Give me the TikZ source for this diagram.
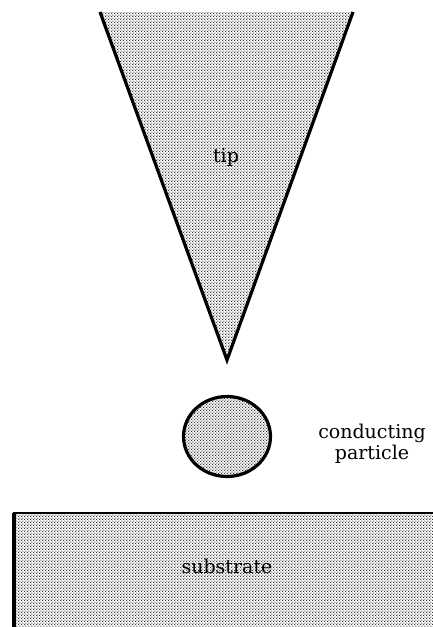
\documentclass[tikz,border=0pt]{standalone}
\usepackage{fontspec}
\setmainfont{DejaVu Serif}
\usetikzlibrary{patterns.meta,shapes.geometric,positioning}

\tikzdeclarepattern{
  name=halftone,
  type=uncolored,
  bounding box={(0,0) and (3.2pt,3.2pt)},
  tile size={(3.2pt,3.2pt)},
  code={
    \fill (0.8pt,0.8pt) circle (0.8pt);
    \fill (2.4pt,2.4pt) circle (0.8pt);
  }
}

\begin{document}
\begin{tikzpicture}[x=1pt,y=-1pt,font=\fontsize{19}{21}\selectfont,
  dotfill/.style={pattern=halftone,pattern color=black!85},
  edge/.style={line width=3.2pt,line join=miter},
  label/.style={inner sep=1pt,align=center}]
  \useasboundingbox (0,0) rectangle (433,627);
  % tip
  \coordinate (tipleft) at (100,12);
  \coordinate (tipright) at (353,12);
  \coordinate (apex) at (227,360);
  \fill[dotfill] (tipleft)--(tipright)--(apex)--cycle;
  \draw[edge] (tipleft)--(apex)--(tipright);
  \node[label] (tiplabel) at (226,157) {tip};
  % particle
  \node[draw,edge,dotfill,ellipse,minimum width=87pt,minimum height=80pt,
    inner sep=0pt] (particle) at (227,436.5) {};
  \node[label] (particlelabel) at (372,444) {conducting\\particle};
  % substrate
  \coordinate (subbl) at (14,627);
  \coordinate (subtl) at (14,513);
  \coordinate (subtr) at (433,513);
  \fill[dotfill] (subtl) rectangle (433,627);
  \draw[edge] (subbl)--(subtl);
  \draw[edge,line width=2.4pt] (12.8,513)--(subtr);
  \node[label] (sublabel) at (227,566) {substrate};
\end{tikzpicture}
\end{document}
